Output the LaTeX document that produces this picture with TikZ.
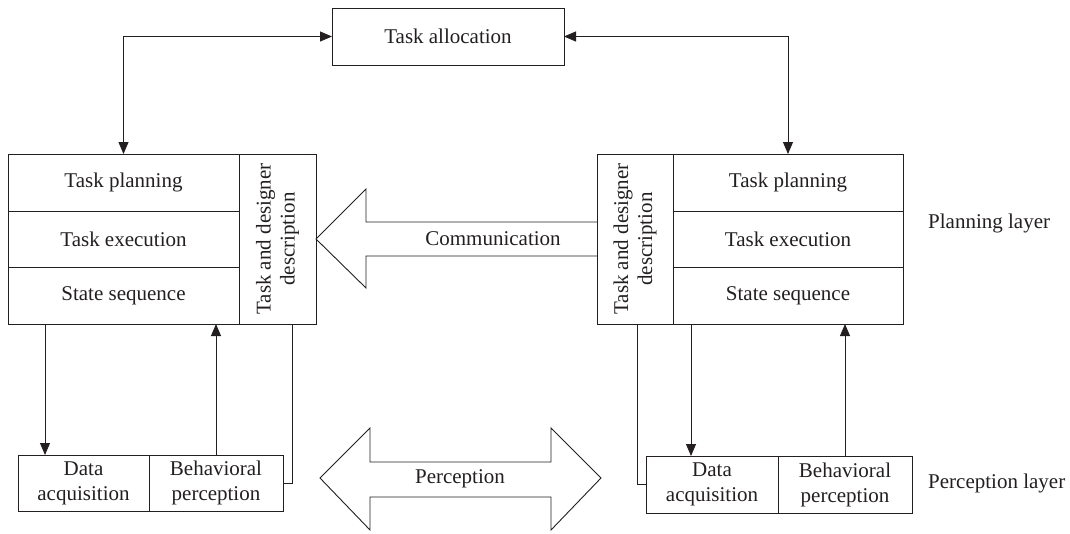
\documentclass[tikz,border=0pt]{standalone}
\usepackage{fontspec}
\setmainfont{Liberation Serif}
\usetikzlibrary{arrows.meta}
\definecolor{ink}{HTML}{231F20}
\begin{document}
\begin{tikzpicture}[x=1pt,y=-1pt,
 box/.style={draw=ink, text=ink, line width=0.9pt, inner sep=0pt, outer sep=0pt, align=center, font=\fontsize{21}{25}\selectfont},
 conn/.style={draw=ink, line width=0.9pt},
 arr/.style={conn, -{Triangle[length=12pt,width=10pt]}},
 darr/.style={conn, {Triangle[length=12pt,width=10pt]}-{Triangle[length=12pt,width=10pt]}},
 lbl/.style={text=ink, font=\fontsize{21}{24}\selectfont, inner sep=0pt, align=center},
 hollow/.style={draw=ink, line width=0.9pt, fill=white}
]
\useasboundingbox (0,0) rectangle (1070,533);

% top
\node[box, minimum width=232pt, minimum height=57pt] (alloc) at (448,36.5) {Task allocation};

% left planning block
\node[box, minimum width=231pt, minimum height=57pt] (lp1) at (123.5,182.5) {Task planning};
\node[box, minimum width=231pt, minimum height=56pt] (lp2) at (123.5,239) {Task execution};
\node[box, minimum width=231pt, minimum height=57pt] (lp3) at (123.5,295.5) {State sequence};
\node[box, minimum width=77pt, minimum height=170pt] (ld) at (277.5,239) {};
\node[lbl, rotate=90] (ldt) at (ld.center) {Task and designer\\description};

% right planning block
\node[box, minimum width=76pt, minimum height=170pt] (rd) at (635,239) {};
\node[lbl, rotate=90] (rdt) at (rd.center) {Task and designer\\description};
\node[box, minimum width=230pt, minimum height=57pt] (rp1) at (788,182.5) {Task planning};
\node[box, minimum width=230pt, minimum height=56pt] (rp2) at (788,239) {Task execution};
\node[box, minimum width=230pt, minimum height=57pt] (rp3) at (788,295.5) {State sequence};

% bottom left
\node[box, minimum width=131pt, minimum height=56pt] (lda) at (83.5,483) {Data\\acquisition};
\node[box, minimum width=134pt, minimum height=56pt] (lbp) at (216,483) {Behavioral\\perception};

% bottom right
\node[box, minimum width=132pt, minimum height=57pt] (rda) at (712,484.5) {Data\\acquisition};
\node[box, minimum width=134pt, minimum height=57pt] (rbp) at (845,484.5) {Behavioral\\perception};

% layer labels
\node[lbl, anchor=west] (pl) at (928,223) {Planning layer};
\node[lbl, anchor=west] (pcl) at (928,483) {Perception layer};

% connectors top
\draw[darr] (alloc.west) -| (lp1.north);
\draw[darr] (alloc.east) -| (rp1.north);

% left connectors
\draw[arr] ([xshift=37pt]lp3.south west) -- ([xshift=27pt]lda.north west);
\draw[arr] (lbp.north) -- (lbp.north |- lp3.south);
\draw[conn] ([xshift=-24pt]ld.south east) |- (lbp.east);

% right connectors
\draw[conn] ([xshift=2pt]rd.south) |- (rda.west);
\draw[arr] ([xshift=18pt]rp3.south west) -- ([xshift=18pt]rp3.south west |- rda.north);
\draw[arr] (rbp.north) -- (rbp.north |- rp3.south);

% communication arrow
\draw[conn] (597,222) -- (366,222) -- (366,189) -- (316,239) -- (366,288) -- (366,256) -- (597,256);
\node[lbl] (comm) at (493,239) {Communication};

% perception arrow
\draw[hollow] (320,478) -- (370,428) -- (370,462) -- (551,462) -- (551,428) -- (601,478) -- (551,530) -- (551,497) -- (370,497) -- (370,530) -- cycle;
\node[lbl] (perc) at (460,479) {Perception};
\end{tikzpicture}
\end{document}
